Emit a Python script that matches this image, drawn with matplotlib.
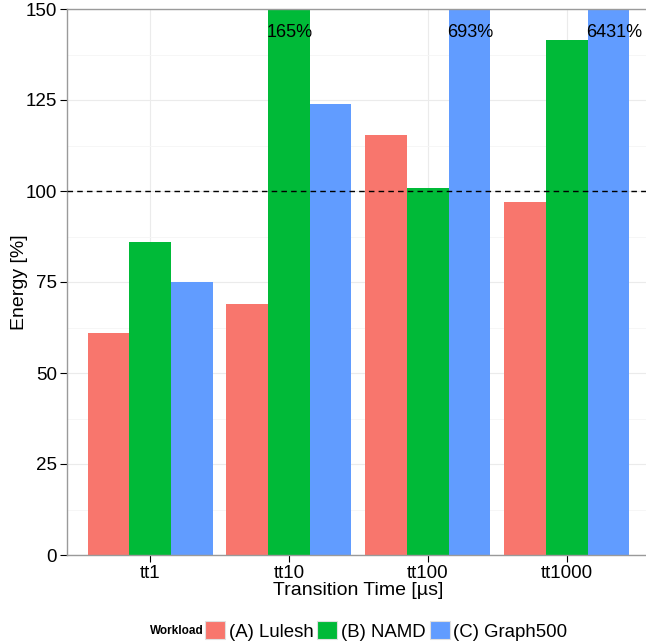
import matplotlib
matplotlib.use("Agg")
import matplotlib.pyplot as plt
from matplotlib.patches import Patch
from matplotlib.ticker import MultipleLocator
import numpy as np

plt.rcParams['font.family'] = ['Liberation Sans', 'DejaVu Sans']

categories = ["tt1", "tt10", "tt100", "tt1000"]
workloads = ["(A) Lulesh", "(B) NAMD", "(C) Graph500"]
lulesh = [61.0, 69.0, 115.4, 96.9]
namd = [85.9, 165.0, 100.7, 141.5]
graph500 = [75.0, 123.9, 693.0, 6431.0]
colors = ["#F8766D", "#00BA38", "#619CFF"]
series = [lulesh, namd, graph500]
ymax = 150

fig = plt.figure(figsize=(6.46, 6.43), dpi=100)
ax = fig.add_axes([66.7/646, 1-555/643, (650-66.7)/646, (555-9)/643])

x = np.arange(1, len(categories) + 1)
w = 0.3
for i, (vals, col) in enumerate(zip(series, colors)):
    pos = x + (i - 1) * w
    ax.bar(pos, vals, width=w, color=col, linewidth=0, zorder=2)
    for p, v in zip(pos, vals):
        if v > ymax:
            ax.text(p - w/2 - 0.01, 143.5, f"{v:g}%", ha='left', va='center',
                    fontsize=13, color='black', zorder=4)

ax.axhline(100, color='black', linestyle=(0, (4, 3)), linewidth=1, zorder=3)

ax.set_xlim(0.4, 4.6)
ax.set_ylim(0, ymax)
ax.set_xticks(x)
ax.set_xticklabels(categories)
ax.yaxis.set_major_locator(MultipleLocator(25))
ax.yaxis.set_minor_locator(MultipleLocator(12.5))
ax.grid(which='major', color='#ebebeb', linewidth=0.8, zorder=0)
ax.grid(which='minor', axis='y', color='#f5f5f5', linewidth=0.6, zorder=0)
ax.set_axisbelow(True)
ax.tick_params(axis='both', which='major', labelsize=13.5, colors='black',
               length=5, width=0.8, pad=2)
ax.tick_params(axis='y', which='minor', length=0)
ax.tick_params(axis='x', which='minor', length=0)
for s in ax.spines.values():
    s.set_color('#9a9a9a')
    s.set_linewidth(1)

ax.set_xlabel("Transition Time [µs]", fontsize=14, labelpad=0)
ax.set_ylabel("Energy [%]", fontsize=14)
ax.yaxis.set_label_coords(-0.066, 0.5)

fig.text(150/646, 1-631/643, "Workload", fontsize=8.5, fontweight='bold',
         ha='left', va='center')
handles = [Patch(facecolor=c, edgecolor='#e0e0e0', linewidth=0.8) for c in colors]
fig.legend(handles, workloads, loc='center left',
           bbox_to_anchor=(205/646, 1-631/643), ncol=3, frameon=False,
           fontsize=13.4, handlelength=1.07, handleheight=1.1,
           handletextpad=0.2, columnspacing=0.22, borderpad=0, borderaxespad=0)

fig.savefig("out.png", dpi=100)
